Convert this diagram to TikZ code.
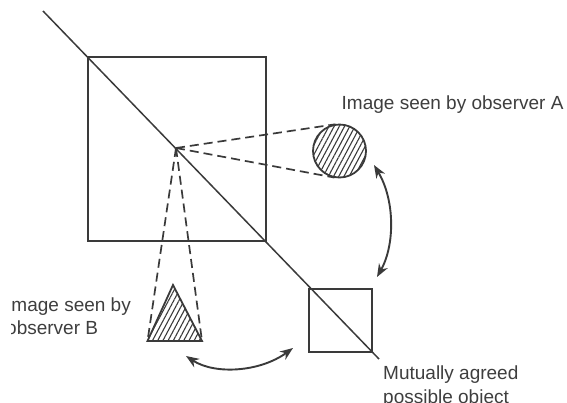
\documentclass[tikz,border=0pt]{standalone}
\usepackage{fontspec}
\setmainfont{Liberation Sans}
\usetikzlibrary{arrows.meta,patterns.meta,calc}
\definecolor{ink}{HTML}{3a3a3a}
\definecolor{txt}{HTML}{3e3e3e}
\begin{document}
\begin{tikzpicture}[x=1pt,y=-1pt,
  outline/.style={draw=ink,line width=1.8pt},
  axisline/.style={draw=ink,line width=1.5pt},
  sightline/.style={draw=ink,line width=1.7pt,dash pattern=on 9pt off 5pt},
  hatch/.style={pattern={Lines[angle=62,distance=4.6pt,line width=1.1pt]},pattern color=ink},
  swap/.style={draw=ink,line width=1.9pt,{Stealth[length=13pt,width=10pt]}-{Stealth[length=13pt,width=10pt]}},
  lbl/.style={text=txt,font=\fontsize{19}{23.5}\selectfont,inner sep=0pt,anchor=base west,align=left}]
\useasboundingbox (0,0) rectangle (567,402);
\clip (11.5,-1) rectangle (568,403);

% half-silvered mirror seen edge-on, and the two squares
\coordinate (d0) at (43,11);
\coordinate (d1) at (379,359);
\node[outline,minimum width=178pt,minimum height=184pt,inner sep=0pt] (big) at (177,149) {};
\node[outline,minimum width=63pt,minimum height=63pt,inner sep=0pt] (obj) at (340.5,320.5) {};
\draw[axisline] (d0) -- (d1);

% viewpoint on the mirror
\coordinate (F) at (176,148);

% image seen by observer A
\node[outline,hatch,circle,minimum size=53pt,inner sep=0pt] (imgA) at (339.5,151) {};
\draw[sightline] (F) -- (tangent cs:node=imgA,point={(F)},solution=1);
\draw[sightline] (F) -- (tangent cs:node=imgA,point={(F)},solution=2);

% image seen by observer B
\coordinate (tA) at (173,285);
\coordinate (tL) at (147.5,341);
\coordinate (tR) at (202,341);
\draw[sightline] (F) -- (tL);
\draw[sightline] (F) -- (tR);
\draw[outline,hatch] (tA) -- (tL) -- (tR) -- cycle;

% two-way arrows
\coordinate (aT) at (374,165);
\coordinate (aB) at (377,277);
\draw[swap] (aT) .. controls (395,200) and (395,245) .. (aB);
\coordinate (bL) at (186,356);
\coordinate (bR) at (293,348);
\draw[swap] (bL) .. controls (215,375) and (260,372) .. (bR);

% captions (anchored on the baseline of their last line)
\node[lbl] (capA) at (341.5,109) {Image seen by observer A};
\node[lbl] (capB) at (6,334.5) {Image seen by\\observer B};
\node[lbl] (capO) at (383,403) {Mutually agreed\\possible object};
\end{tikzpicture}
\end{document}
